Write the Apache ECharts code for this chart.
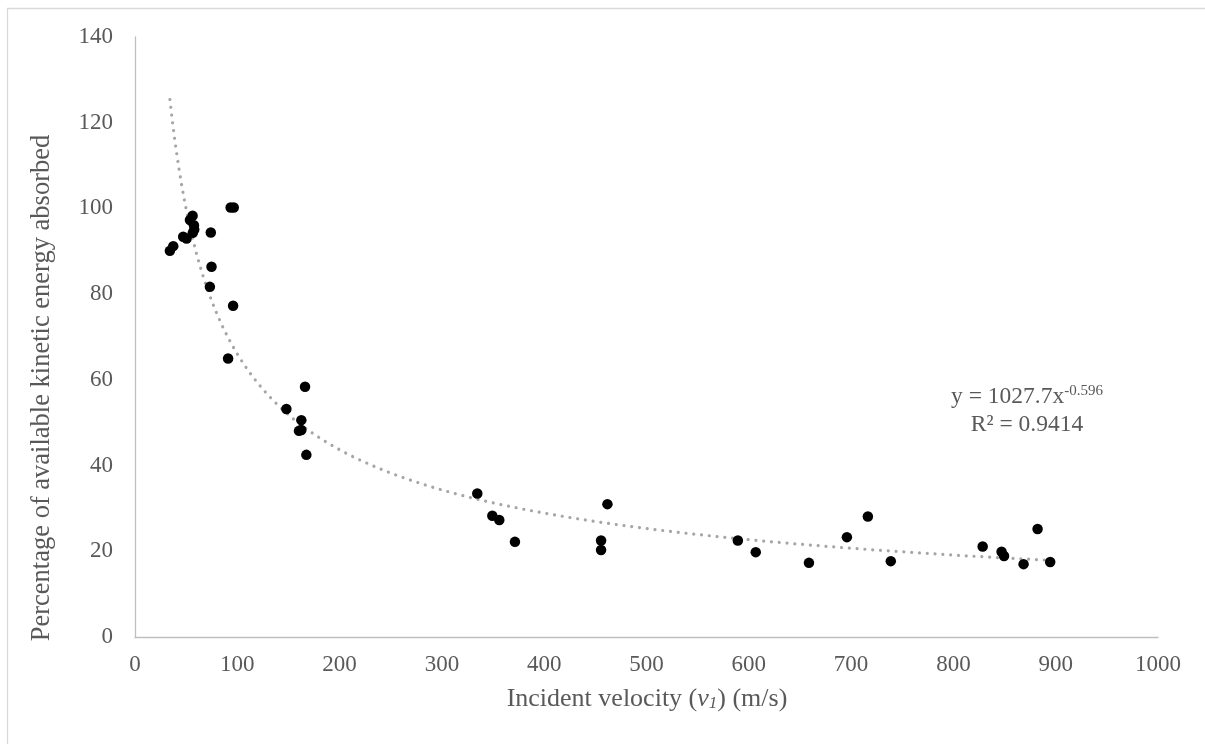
<!DOCTYPE html>
<html>
<head>
<meta charset="utf-8">
<script src="https://cdn.jsdelivr.net/npm/echarts@6/dist/echarts.min.js"></script>
<style>
html,body{margin:0;padding:0;background:#fff;}
#chart{width:1205px;height:744px;}
</style>
</head>
<body>
<div id="chart"></div>
<script>
// Incident velocity (m/s)
var velocity = [34.1, 37.4, 47.1, 50.4, 53.7, 56.3, 57.6, 57.9, 56.5, 74.1, 74.8, 73.2, 93.5, 96.5, 95.9, 91.0,
  148.0, 160.3, 162.6, 162.6, 166.2, 167.5,
  334.6, 349.3, 356.1, 371.4, 455.6, 455.6, 461.8,
  589.3, 606.8, 658.8, 695.9, 716.4, 738.8,
  828.6, 847.1, 849.5, 868.6, 882.3, 894.6];
// Percentage of available kinetic energy absorbed
var absorbed = [90.1, 91.2, 93.4, 93.0, 97.3, 98.3, 96.1, 95.1, 94.3, 94.4, 86.4, 81.7, 100.2, 100.2, 77.3, 65.0,
  53.2, 48.1, 48.3, 50.6, 58.4, 42.5,
  33.5, 28.3, 27.3, 22.2, 22.5, 20.3, 31.0,
  22.5, 19.8, 17.3, 23.3, 28.1, 17.7,
  21.1, 19.9, 18.9, 17.0, 25.2, 17.5];
// Power trendline shown on chart: y = 1027.7 x^-0.596
var trendA = 1027.7, trendB = -0.596, trendR2 = 0.9414;
var xTicks = {min: 0, max: 1000, interval: 100};
var yTicks = {min: 0, max: 140, interval: 20};

var points = velocity.map(function (v, i) { return [v, absorbed[i]]; });
var xMin = Math.min.apply(null, velocity), xMax = Math.max.apply(null, velocity);
var trend = [];
for (var i = 0; i <= 300; i++) {
  var x = xMin + (xMax - xMin) * i / 300;
  trend.push([x, trendA * Math.pow(x, trendB)]);
}

var font = 'Liberation Serif';
var chart = echarts.init(document.getElementById('chart'));
chart.setOption({
  backgroundColor: '#fff',
  animation: false,
  grid: {left: 135, right: 47, top: 37, bottom: 107},
  xAxis: {
    type: 'value', min: xTicks.min, max: xTicks.max, interval: xTicks.interval,
    axisLine: {show: true, lineStyle: {color: '#bfbfbf', width: 1.3}},
    axisTick: {show: false},
    splitLine: {show: false},
    axisLabel: {color: '#595959', fontFamily: font, fontSize: 23, margin: 16, formatter: function (v) { return String(v); }}
  },
  yAxis: {
    type: 'value', min: yTicks.min, max: yTicks.max, interval: yTicks.interval,
    axisLine: {show: true, lineStyle: {color: '#bfbfbf', width: 1.3}},
    axisTick: {show: false},
    splitLine: {show: false},
    axisLabel: {color: '#595959', fontFamily: font, fontSize: 23, margin: 22}
  },
  series: [
    {
      type: 'line', data: trend, showSymbol: false, symbol: 'none', z: 1,
      lineStyle: {color: '#a6a6a6', width: 3.2, type: [0.01, 7.8], cap: 'round'}
    },
    {
      type: 'scatter', data: points, symbol: 'circle', symbolSize: 10.5, z: 2,
      itemStyle: {color: '#000000', opacity: 1}
    }
  ],
  graphic: [
    {type: 'rect', left: 5, top: 6, shape: {width: 1220, height: 760}, style: {fill: 'none', stroke: '#d9d9d9', lineWidth: 1.3}, silent: true},
    {
      type: 'text', x: 647, y: 699,
      style: {
        text: '{n|Incident velocity (}{i|v}{s|1}{n|) (m/s)}',
        align: 'center', verticalAlign: 'middle',
        rich: {
          n: {fontFamily: font, fontSize: 26, fill: '#595959'},
          i: {fontFamily: font, fontSize: 26, fill: '#595959', fontStyle: 'italic'},
          s: {fontFamily: font, fontSize: 17, fill: '#595959', fontStyle: 'italic', verticalAlign: 'bottom', padding: [10, 0, 0, 0]}
        }
      }
    },
    {
      type: 'text', x: 42, y: 388, rotation: Math.PI / 2,
      style: {
        text: 'Percentage of available kinetic energy absorbed',
        align: 'center', verticalAlign: 'middle',
        fontFamily: font, fontSize: 26.5, fill: '#595959'
      }
    },
    {
      type: 'text', x: 1027, y: 397,
      style: {
        text: '{n|y = ' + trendA + 'x}{sup|' + trendB + '}',
        align: 'center', verticalAlign: 'middle',
        rich: {
          n: {fontFamily: font, fontSize: 23.5, fill: '#595959'},
          sup: {fontFamily: font, fontSize: 15, fill: '#595959', verticalAlign: 'top', padding: [0, 0, 12, 0]}
        }
      }
    },
    {
      type: 'text', x: 1027, y: 425,
      style: {
        text: 'R² = ' + trendR2,
        align: 'center', verticalAlign: 'middle',
        fontFamily: font, fontSize: 23.5, fill: '#595959'
      }
    }
  ]
});
</script>
</body>
</html>
